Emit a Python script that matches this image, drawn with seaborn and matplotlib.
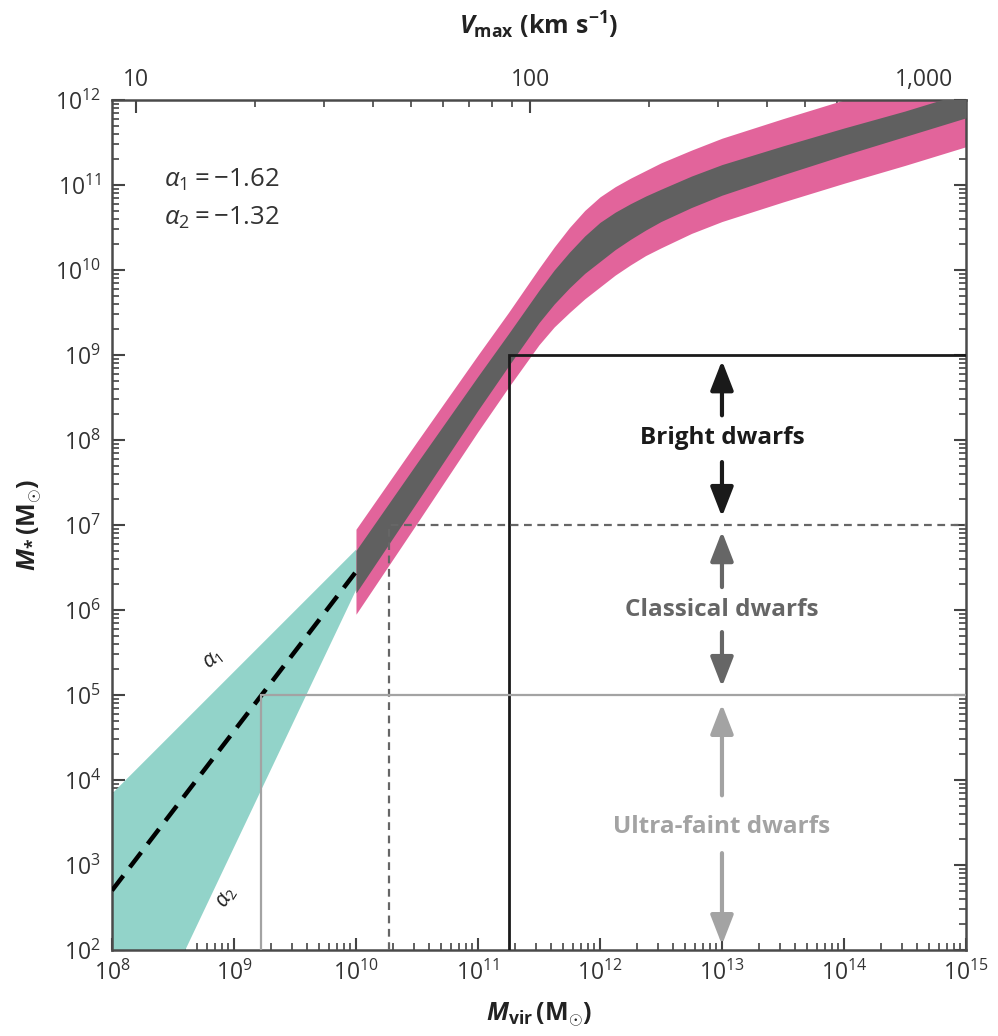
import numpy as np
import matplotlib
matplotlib.use("Agg")
import matplotlib.pyplot as plt
import matplotlib.ticker as mticker
import seaborn as sns

# ---- values (log10 units) ----
band_logm = [10.0, 10.5, 11.0, 11.25, 11.5, 11.625, 11.75, 11.875, 12.0, 12.125, 12.25,
             12.375, 12.5, 12.75, 13.0, 13.5, 14.0, 14.5, 15.0]
band_mid = [6.45, 7.5, 8.55, 9.06, 9.57, 9.8, 10.0, 10.18, 10.33, 10.46, 10.57,
            10.67, 10.76, 10.92, 11.06, 11.29, 11.51, 11.72, 11.94]
dark_half = [0.25, 0.23, 0.2, 0.19, 0.19, 0.2, 0.21, 0.22, 0.23, 0.22, 0.21,
             0.2, 0.19, 0.185, 0.18, 0.17, 0.16, 0.15, 0.15]
pink_half = [0.5, 0.48, 0.45, 0.44, 0.45, 0.47, 0.5, 0.52, 0.53, 0.52, 0.51,
             0.5, 0.5, 0.49, 0.49, 0.49, 0.49, 0.49, 0.49]

teal_logm = [8.0, 10.0]
teal_upper = [3.85, 6.72]
teal_lower = [0.2, 6.25]

fit_logm = [8.0, 10.0]
fit_logms = [2.7, 6.45]

# dwarf classes: stellar mass limit, matching halo mass
class_names = ["Bright dwarfs", "Classical dwarfs", "Ultra-faint dwarfs"]
class_mstar = [1e9, 1e7, 1e5]
class_mvir = [1.78e11, 1.86e10, 1.66e9]
class_colors = ["#1a1a1a", "#666666", "#a3a3a3"]
class_text_y = [1.05e8, 1.0e6, 2.8e3]
arrow_up = [(1.95e8, 8.6e8), (1.86e6, 8.4e6), (6.6e3, 7.8e4)]
arrow_down = [(5.5e7, 1.25e7), (5.5e5, 1.25e5), (1.38e3, 1.15e2)]
arrow_x = 1e13

x_decades = np.arange(8, 16)
y_decades = np.arange(2, 13)
vmax_ticks = [10, 100, 1000]

# Mvir <-> Vmax mapping
logm_at_v10 = 8.197
dex_m_per_dex_v = 3.23


def m2v(m):
    m = np.maximum(np.asarray(m, dtype=float), 1e-30)
    return 10 ** (1 + (np.log10(m) - logm_at_v10) / dex_m_per_dex_v)


def v2m(v):
    v = np.maximum(np.asarray(v, dtype=float), 1e-30)
    return 10 ** (logm_at_v10 + dex_m_per_dex_v * (np.log10(v) - 1))


sns.set_style("ticks")
plt.rcParams["font.family"] = ["Open Sans", "DejaVu Sans"]
plt.rcParams["mathtext.fontset"] = "custom"
plt.rcParams["mathtext.rm"] = "Open Sans"
plt.rcParams["mathtext.it"] = "Open Sans:italic"
plt.rcParams["mathtext.bf"] = "Open Sans:bold"
plt.rcParams["mathtext.bfit"] = "Open Sans:bold:italic"

fig = plt.figure(figsize=(9.98, 10.36), dpi=100)
ax = fig.add_axes([0.1122, 0.083, 0.8557, 0.8205])
ax.set_xscale("log")
ax.set_yscale("log")

bx = 10 ** np.array(band_logm)
mid = np.array(band_mid)
teal_c = "#92d3c9"
pink_c = "#e2649b"
dark_c = "#606060"

ax.fill_between(10 ** np.array(teal_logm), 10 ** np.array(teal_lower), 10 ** np.array(teal_upper),
                color=teal_c, lw=0, zorder=1)
ax.fill_between(bx, 10 ** (mid - np.array(pink_half)), 10 ** (mid + np.array(pink_half)),
                color=pink_c, lw=0, zorder=2)
ax.fill_between(bx, 10 ** (mid - np.array(dark_half)), 10 ** (mid + np.array(dark_half)),
                color=dark_c, lw=0, zorder=3)

sns.lineplot(x=10 ** np.array(fit_logm), y=10 ** np.array(fit_logms), ax=ax,
             color="black", lw=3.2, dashes=False, zorder=4).lines[-1].set_dashes((4.2, 2.4))

# class boundaries
styles = ["-", (0, (3.5, 2.5)), "-"]
widths = [2.0, 1.6, 1.6]
for name, ms, mv, col, ls, w in zip(class_names, class_mstar, class_mvir, class_colors, styles, widths):
    ax.plot([mv, mv, 1e15], [1e2, ms, ms], color=col, lw=w, ls=ls, zorder=5,
            solid_joinstyle="miter", dash_joinstyle="miter")

for name, col, ty, up, dn in zip(class_names, class_colors, class_text_y, arrow_up, arrow_down):
    ax.text(arrow_x, ty, name, color=col, fontsize=17.5, fontweight="bold",
            ha="center", va="center", zorder=6)
    for tail, tip in (up, dn):
        ax.annotate("", xy=(arrow_x, tip), xytext=(arrow_x, tail),
                    arrowprops=dict(arrowstyle="-|>,head_length=0.9,head_width=0.35", lw=3.0,
                                    color=col, shrinkA=0, shrinkB=0, mutation_scale=20),
                    zorder=6)

ax.text(10 ** 8.43, 10 ** 11.06, r"$\alpha_1 = -1.62$", fontsize=18.5, ha="left", va="center", color="#333333")
ax.text(10 ** 8.43, 10 ** 10.61, r"$\alpha_2 = -1.32$", fontsize=18.5, ha="left", va="center", color="#333333")
ax.text(10 ** 8.83, 10 ** 5.41, r"$\alpha_1$", fontsize=15, rotation=38, ha="center", va="center", color="#222222")
ax.text(10 ** 8.94, 10 ** 2.62, r"$\alpha_2$", fontsize=15, rotation=58, ha="center", va="center", color="#222222")

ax.set_xlim(1e8, 1e15)
ax.set_ylim(1e2, 1e12)
ax.xaxis.set_major_locator(mticker.FixedLocator(10.0 ** x_decades))
ax.yaxis.set_major_locator(mticker.FixedLocator(10.0 ** y_decades))
ax.xaxis.set_major_formatter(mticker.LogFormatterSciNotation())
ax.yaxis.set_major_formatter(mticker.LogFormatterSciNotation())
ax.xaxis.set_minor_locator(mticker.FixedLocator(
    [s * 10.0 ** d for d in x_decades[:-1] for s in range(2, 10)]))
ax.yaxis.set_minor_locator(mticker.FixedLocator(
    [s * 10.0 ** d for d in y_decades[:-1] for s in range(2, 10)]))
ax.xaxis.set_minor_formatter(mticker.NullFormatter())
ax.yaxis.set_minor_formatter(mticker.NullFormatter())
ax.tick_params(which="both", direction="in", top=False, right=True, color="#444444",
               labelsize=16.5, labelcolor="#333333")
ax.tick_params(which="major", length=9, width=1.5, pad=8)
ax.tick_params(which="minor", length=5, width=1.2)
for sp in ax.spines.values():
    sp.set_color("#4a4a4a")
    sp.set_linewidth(1.8)

ax.set_xlabel(r"$\mathbfit{M}_{\mathbf{vir}}\,\mathbf{(M_{\odot})}$", fontsize=18, labelpad=10, color="#222222")
ax.set_ylabel(r"$\mathbfit{M}_{\mathbf{*}}\,\mathbf{(M_{\odot})}$", fontsize=18, labelpad=8, color="#222222")

sec = ax.secondary_xaxis("top", functions=(m2v, v2m))
sec.xaxis.set_major_locator(mticker.FixedLocator(vmax_ticks))
sec.xaxis.set_major_formatter(mticker.FuncFormatter(lambda v, p: f"{v:,.0f}"))
sec.xaxis.set_minor_locator(mticker.FixedLocator(
    [s * v for v in vmax_ticks[:-1] for s in range(2, 10)]))
sec.xaxis.set_minor_formatter(mticker.NullFormatter())
sec.tick_params(which="both", direction="in", color="#444444", labelsize=16.5, labelcolor="#333333")
sec.tick_params(which="major", length=9, width=1.5, pad=6)
sec.tick_params(which="minor", length=5, width=1.2)
sec.spines["top"].set_visible(False)
sec.set_xlabel(r"$\mathbfit{V}_{\mathbf{max}}\ \mathbf{(km\ s^{-1})}$", fontsize=18, labelpad=24, color="#222222")

fig.savefig("out.png", dpi=100)
